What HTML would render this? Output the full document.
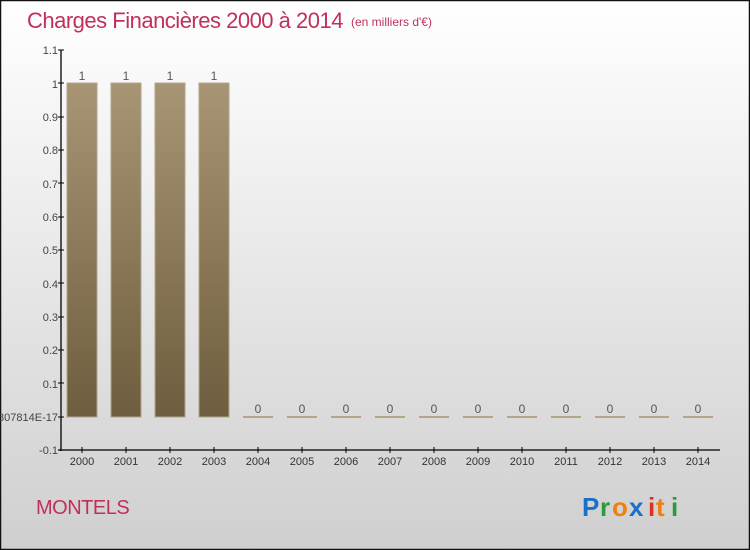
<!DOCTYPE html>
<html><head><meta charset="utf-8"><style>
html,body{margin:0;padding:0;width:750px;height:550px;overflow:hidden}
svg{display:block}
text{font-family:"Liberation Sans",sans-serif}
</style></head><body>
<svg width="750" height="550" viewBox="0 0 750 550" xmlns="http://www.w3.org/2000/svg">
<defs>
<linearGradient id="bg" x1="0" y1="0" x2="0" y2="1"><stop offset="0" stop-color="#ffffff"/><stop offset="1" stop-color="#cfcfcf"/></linearGradient>
<linearGradient id="bar" x1="0" y1="0" x2="0" y2="1"><stop offset="0" stop-color="#a89574"/><stop offset="1" stop-color="#6e5d3e"/></linearGradient>
</defs>
<rect x="0.5" y="0.5" width="749" height="549" fill="url(#bg)" stroke="#111" stroke-width="1.5"/>
<text x="27" y="28" font-size="22" fill="#c0305a" letter-spacing="-0.5">Charges Financières 2000 à 2014</text>
<text x="351" y="26" font-size="12" fill="#c0305a">(en milliers d'€)</text>
<g stroke="#000" stroke-width="1.3">
<line x1="61" y1="50" x2="61" y2="451"/>
<line x1="58" y1="450" x2="720" y2="450"/>
</g>
<g font-size="11" fill="#444" text-anchor="end">
<text x="58" y="54">1.1</text><text x="58" y="88">1</text><text x="58" y="121">0.9</text><text x="58" y="154">0.8</text><text x="58" y="188">0.7</text><text x="58" y="221">0.6</text><text x="58" y="254">0.5</text><text x="58" y="288">0.4</text><text x="58" y="321">0.3</text><text x="58" y="354">0.2</text><text x="58" y="388">0.1</text><text x="58" y="421">-1.3877787807814E-17</text><text x="58" y="454">-0.1</text>
</g>
<g stroke="#000" stroke-width="1">
<line x1="58" y1="50" x2="64" y2="50"/><line x1="58" y1="83" x2="64" y2="83"/><line x1="58" y1="117" x2="64" y2="117"/><line x1="58" y1="150" x2="64" y2="150"/><line x1="58" y1="183" x2="64" y2="183"/><line x1="58" y1="217" x2="64" y2="217"/><line x1="58" y1="250" x2="64" y2="250"/><line x1="58" y1="283" x2="64" y2="283"/><line x1="58" y1="317" x2="64" y2="317"/><line x1="58" y1="350" x2="64" y2="350"/><line x1="58" y1="383" x2="64" y2="383"/><line x1="58" y1="417" x2="64" y2="417"/>
</g>
<g id="bars">
<rect x="67" y="83" width="30" height="334" fill="url(#bar)" stroke="#b0a58e" stroke-width="1"/>
<rect x="111" y="83" width="30" height="334" fill="url(#bar)" stroke="#b0a58e" stroke-width="1"/>
<rect x="155" y="83" width="30" height="334" fill="url(#bar)" stroke="#b0a58e" stroke-width="1"/>
<rect x="199" y="83" width="30" height="334" fill="url(#bar)" stroke="#b0a58e" stroke-width="1"/>
</g>
<g fill="#b3a48a">
<rect x="243" y="416" width="30" height="2"/><rect x="287" y="416" width="30" height="2"/><rect x="331" y="416" width="30" height="2"/><rect x="375" y="416" width="30" height="2"/><rect x="419" y="416" width="30" height="2"/><rect x="463" y="416" width="30" height="2"/><rect x="507" y="416" width="30" height="2"/><rect x="551" y="416" width="30" height="2"/><rect x="595" y="416" width="30" height="2"/><rect x="639" y="416" width="30" height="2"/><rect x="683" y="416" width="30" height="2"/>
</g>
<g font-size="12" fill="#555" text-anchor="middle">
<text x="82" y="80">1</text><text x="126" y="80">1</text><text x="170" y="80">1</text><text x="214" y="80">1</text>
<text x="258" y="413">0</text><text x="302" y="413">0</text><text x="346" y="413">0</text><text x="390" y="413">0</text><text x="434" y="413">0</text><text x="478" y="413">0</text><text x="522" y="413">0</text><text x="566" y="413">0</text><text x="610" y="413">0</text><text x="654" y="413">0</text><text x="698" y="413">0</text>
</g>
<g stroke="#000" stroke-width="1">
<line x1="82" y1="447" x2="82" y2="453"/><line x1="126" y1="447" x2="126" y2="453"/><line x1="170" y1="447" x2="170" y2="453"/><line x1="214" y1="447" x2="214" y2="453"/><line x1="258" y1="447" x2="258" y2="453"/><line x1="302" y1="447" x2="302" y2="453"/><line x1="346" y1="447" x2="346" y2="453"/><line x1="390" y1="447" x2="390" y2="453"/><line x1="434" y1="447" x2="434" y2="453"/><line x1="478" y1="447" x2="478" y2="453"/><line x1="522" y1="447" x2="522" y2="453"/><line x1="566" y1="447" x2="566" y2="453"/><line x1="610" y1="447" x2="610" y2="453"/><line x1="654" y1="447" x2="654" y2="453"/><line x1="698" y1="447" x2="698" y2="453"/>
</g>
<g font-size="11" fill="#333" text-anchor="middle">
<text x="82" y="465">2000</text><text x="126" y="465">2001</text><text x="170" y="465">2002</text><text x="214" y="465">2003</text><text x="258" y="465">2004</text><text x="302" y="465">2005</text><text x="346" y="465">2006</text><text x="390" y="465">2007</text><text x="434" y="465">2008</text><text x="478" y="465">2009</text><text x="522" y="465">2010</text><text x="566" y="465">2011</text><text x="610" y="465">2012</text><text x="654" y="465">2013</text><text x="698" y="465">2014</text>
</g>
<text x="36" y="514" font-size="20" fill="#c0305a" letter-spacing="-0.5">MONTELS</text>
<g font-size="26" font-weight="bold" font-family="Liberation Sans,sans-serif">
<text x="582" y="516" fill="#1a6fc9">P</text><text x="600" y="516" fill="#2a9a3a">r</text><text x="612" y="516" fill="#f08010">o</text><text x="629" y="516" fill="#1a6fc9">x</text><text x="648" y="516" fill="#e03020">i</text><text x="656" y="516" fill="#f08010">t</text><text x="671" y="516" fill="#2a9a3a">i</text>
</g>
</svg>
</body></html>
